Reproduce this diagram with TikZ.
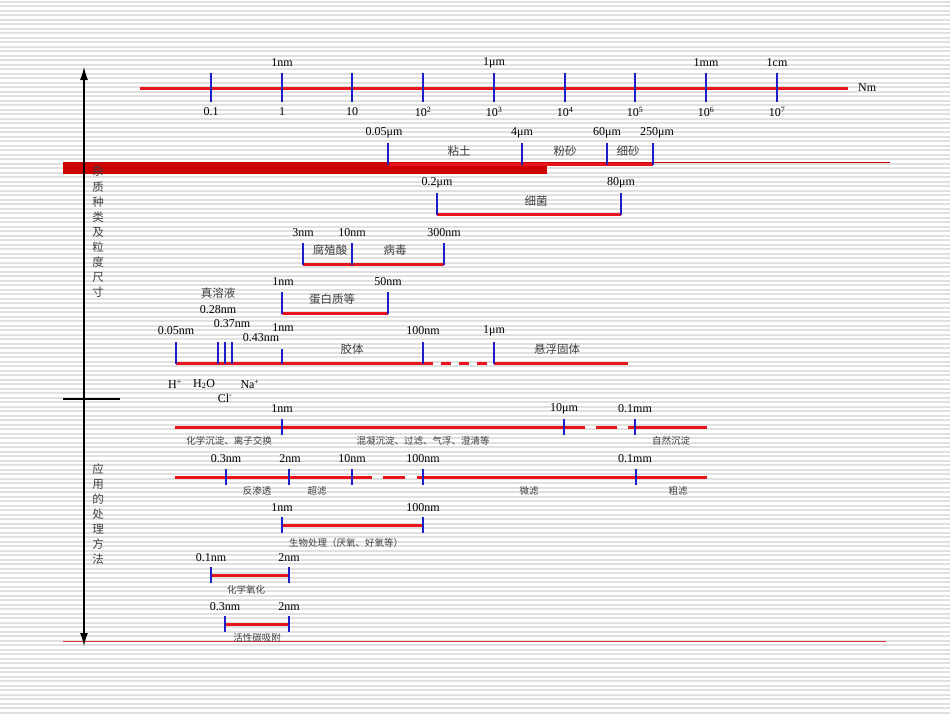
\documentclass[tikz,border=0pt]{standalone}
\usepackage{fontspec}
\setmainfont{Liberation Serif}
\newfontfamily\cjk{Noto Sans CJK SC}
\usetikzlibrary{arrows.meta}

\definecolor{barred}{RGB}{204,0,0}
\definecolor{linered}{RGB}{232,22,28}
\definecolor{tickblue}{RGB}{30,30,200}
\definecolor{stripe}{RGB}{224,224,224}

\tikzset{
  scaleline/.style={linered, line width=3pt},
  tickmark/.style={tickblue, line width=1.5pt},
  thintick/.style={tickblue, line width=1.2pt},
  numlabel/.style={font=\fontsize{12}{12}\selectfont, inner sep=0pt},
  cnlabel/.style={font=\cjk\fontsize{11.5}{12}\selectfont, inner sep=0pt, text=black!75},
  uselabel/.style={font=\cjk\fontsize{9.5}{10}\selectfont, inner sep=0pt, text=black!75},
  sidetext/.style={font=\cjk\fontsize{11.5}{15.1}\selectfont, inner sep=0pt, align=center, text=black!75},
}

\begin{document}
\begin{tikzpicture}[x=1pt,y=-1pt]
  \useasboundingbox (0,0) rectangle (950,713);

  % slide background
  \foreach \y in {1.5,6,...,713} \draw[stripe, line width=2pt] (0,\y) -- (950,\y);
  \fill[barred] (63,162) rectangle (547,174);
  \draw[barred, line width=0.7pt] (547,162) -- (890,162);
  \draw[barred!80, line width=0.7pt] (63,641) -- (886,641);

  % vertical axis
  \coordinate (top) at (84,67);
  \coordinate (bot) at (84,646);
  \coordinate (sepl) at (63,399);
  \coordinate (sepr) at (120,399);
  \draw[line width=1.2pt, {Latex[length=13pt,width=8pt]}-{Latex[length=13pt,width=8pt]}] (top) -- (bot);
  \draw[line width=1.2pt] (sepl) -- (sepr);
  \node[sidetext] (kind) at (98,232) {杂\\质\\种\\类\\及\\粒\\度\\尺\\寸};
  \node[sidetext] (method) at (98,514) {应\\用\\的\\处\\理\\方\\法};

  % main scale
  \coordinate (ax0) at (140,88);
  \coordinate (ax1) at (848,88);
  \draw[scaleline] (ax0) -- (ax1);
  \node[numlabel, anchor=west] (unit) at (858,88) {Nm};
  \foreach \x/\lab [count=\i] in {211/0.1, 282/1, 352/10, 423/10\textsuperscript{2},
      494/10\textsuperscript{3}, 565/10\textsuperscript{4}, 635/10\textsuperscript{5},
      706/10\textsuperscript{6}, 777/10\textsuperscript{7}}{
    \draw[tickmark] (\x,73) -- (\x,102);
    \node[numlabel] (dec\i) at (\x,112) {\lab};
  }
  \node[numlabel] (nm) at (282,63) {1nm};
  \node[numlabel] (um) at (494,63) {1μm};
  \node[numlabel] (mm) at (706,63) {1mm};
  \node[numlabel] (cm) at (777,63) {1cm};

  % soil particles
  \coordinate (soil0) at (388,164);
  \coordinate (soil1) at (653,164);
  \draw[scaleline] (soil0) -- (soil1);
  \foreach \x in {388,522,607,653} \draw[tickmark] (\x,143) -- (\x,165);
  \node[numlabel] (clayl) at (384,133) {0.05μm};
  \node[numlabel] (siltl) at (522,133) {4μm};
  \node[numlabel] (sandl) at (607,133) {60μm};
  \node[numlabel] (sandr) at (657,133) {250μm};
  \node[cnlabel] (clay) at (459,151) {粘土};
  \node[cnlabel] (silt) at (565,151) {粉砂};
  \node[cnlabel] (sand) at (628,151) {细砂};

  % bacteria
  \coordinate (bac0) at (437,214);
  \coordinate (bac1) at (621,214);
  \draw[scaleline] (bac0) -- (bac1);
  \foreach \x in {437,621} \draw[tickmark] (\x,193) -- (\x,215);
  \node[numlabel] (bacl) at (437,183) {0.2μm};
  \node[numlabel] (bacr) at (621,183) {80μm};
  \node[cnlabel] (bac) at (536,201) {细菌};

  % humic acid, virus
  \coordinate (hum0) at (303,264);
  \coordinate (hum1) at (444,264);
  \draw[scaleline] (hum0) -- (hum1);
  \foreach \x in {303,352,444} \draw[tickmark] (\x,243) -- (\x,265);
  \node[numlabel] (huml) at (303,233) {3nm};
  \node[numlabel] (humr) at (352,233) {10nm};
  \node[numlabel] (virr) at (444,233) {300nm};
  \node[cnlabel] (hum) at (330,250) {腐殖酸};
  \node[cnlabel] (vir) at (395,250) {病毒};

  % proteins
  \coordinate (pro0) at (282,313);
  \coordinate (pro1) at (388,313);
  \draw[scaleline] (pro0) -- (pro1);
  \foreach \x in {282,388} \draw[tickmark] (\x,292) -- (\x,314);
  \node[numlabel] (prol) at (283,282) {1nm};
  \node[numlabel] (pror) at (388,282) {50nm};
  \node[cnlabel] (pro) at (332,299) {蛋白质等};
  \node[cnlabel] (sol) at (218,293) {真溶液};

  % colloids, suspended solids
  \coordinate (col0) at (176,363);
  \coordinate (col1) at (423,363);
  \coordinate (sus0) at (494,363);
  \coordinate (sus1) at (628,363);
  \draw[scaleline] (col0) -- (col1);
  \draw[scaleline, dash pattern=on 10pt off 8pt] (col1) -- (sus0);
  \draw[scaleline] (sus0) -- (sus1);
  \foreach \x in {176,218,225,232,423,494} \draw[tickmark] (\x,342) -- (\x,364);
  \draw[tickmark] (282,349) -- (282,364);
  \node[numlabel] (cola) at (176,331) {0.05nm};
  \node[numlabel] (colb) at (218,310) {0.28nm};
  \node[numlabel] (colc) at (232,324) {0.37nm};
  \node[numlabel] (cold) at (261,338) {0.43nm};
  \node[numlabel] (cole) at (283,328) {1nm};
  \node[numlabel] (colf) at (423,331) {100nm};
  \node[numlabel] (susl) at (494,331) {1μm};
  \node[cnlabel] (col) at (352,349) {胶体};
  \node[cnlabel] (sus) at (557,349) {悬浮固体};

  % ions
  \node[numlabel] (hion) at (175,384) {H\textsuperscript{+}};
  \node[numlabel] (water) at (204,384) {H\textsubscript{2}O};
  \node[numlabel] (naion) at (250,384) {Na\textsuperscript{+}};
  \node[numlabel] (clion) at (225,398) {Cl\textsuperscript{-}};

  % precipitation, coagulation, settling
  \coordinate (pre0) at (175,427);
  \coordinate (pre1) at (585,427);
  \coordinate (pre2) at (596,427);
  \coordinate (pre3) at (617,427);
  \coordinate (pre4) at (628,427);
  \coordinate (pre5) at (707,427);
  \draw[scaleline] (pre0) -- (pre1) (pre2) -- (pre3) (pre4) -- (pre5);
  \foreach \x in {282,564,635} \draw[thintick] (\x,419) -- (\x,435);
  \node[numlabel] (prea) at (282,409) {1nm};
  \node[numlabel] (preb) at (564,409) {10μm};
  \node[numlabel] (prec) at (635,409) {0.1mm};
  \node[uselabel] (chem) at (229,441) {化学沉淀、离子交换};
  \node[uselabel] (coag) at (423,441) {混凝沉淀、过滤、气浮、澄清等};
  \node[uselabel] (settle) at (671,441) {自然沉淀};

  % membranes, filtration
  \coordinate (mem0) at (175,477);
  \coordinate (mem1) at (372,477);
  \coordinate (mem2) at (383,477);
  \coordinate (mem3) at (405,477);
  \coordinate (mem4) at (417,477);
  \coordinate (mem5) at (707,477);
  \draw[scaleline] (mem0) -- (mem1) (mem2) -- (mem3) (mem4) -- (mem5);
  \foreach \x in {226,289,352,423,636} \draw[thintick] (\x,469) -- (\x,485);
  \node[numlabel] (mema) at (226,459) {0.3nm};
  \node[numlabel] (memb) at (290,459) {2nm};
  \node[numlabel] (memc) at (352,459) {10nm};
  \node[numlabel] (memd) at (423,459) {100nm};
  \node[numlabel] (meme) at (635,459) {0.1mm};
  \node[uselabel] (ro) at (257,491) {反渗透};
  \node[uselabel] (uf) at (317,491) {超滤};
  \node[uselabel] (mf) at (529,491) {微滤};
  \node[uselabel] (cf) at (678,491) {粗滤};

  % biological treatment
  \coordinate (bio0) at (282,525);
  \coordinate (bio1) at (423,525);
  \draw[scaleline] (bio0) -- (bio1);
  \foreach \x in {282,423} \draw[thintick] (\x,517) -- (\x,533);
  \node[numlabel] (biol) at (282,508) {1nm};
  \node[numlabel] (bior) at (423,508) {100nm};
  \node[uselabel] (bio) at (346,543) {生物处理（厌氧、好氧等）};

  % chemical oxidation
  \coordinate (oxi0) at (211,575);
  \coordinate (oxi1) at (289,575);
  \draw[scaleline] (oxi0) -- (oxi1);
  \foreach \x in {211,289} \draw[thintick] (\x,567) -- (\x,583);
  \node[numlabel] (oxil) at (211,558) {0.1nm};
  \node[numlabel] (oxir) at (289,558) {2nm};
  \node[uselabel] (oxi) at (246,590) {化学氧化};

  % activated carbon
  \coordinate (ads0) at (225,624);
  \coordinate (ads1) at (289,624);
  \draw[scaleline] (ads0) -- (ads1);
  \foreach \x in {225,289} \draw[thintick] (\x,616) -- (\x,632);
  \node[numlabel] (adsl) at (225,607) {0.3nm};
  \node[numlabel] (adsr) at (289,607) {2nm};
  \node[uselabel] (ads) at (257,638) {活性碳吸附};
\end{tikzpicture}
\end{document}
